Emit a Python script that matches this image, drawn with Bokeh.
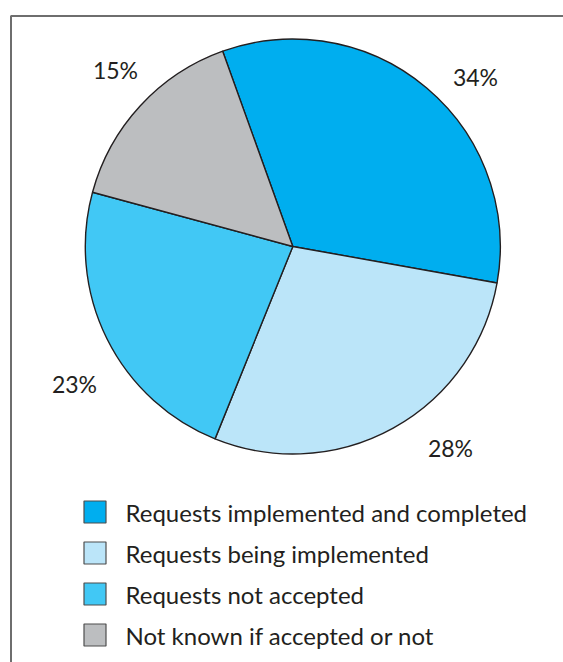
import math
from bokeh.plotting import figure
from bokeh.models import Range1d, ColumnDataSource
from bokeh.core.properties import value
from bokeh.embed import file_html
from bokeh.resources import INLINE

# ---- data ----
categories = ["Requests implemented and completed", "Requests being implemented",
              "Requests not accepted", "Not known if accepted or not"]
shares = [33.3, 28.3, 23.1, 15.3]   # slice sizes as drawn in the picture
pct_labels = ["34%", "28%", "23%", "15%"]
colors = ["#00aeef", "#bbe5f9", "#41c8f5", "#bcbec0"]

# ---- layout (page pixel coords, y measured from top) ----
W, H = 563, 662
def Y(py):
    return H - py

cx, cy, R = 292.3, Y(246), 207.5
start_deg = 109.75  # first slice starts here (counter-clockwise from +x), goes clockwise
label_pos = [(475, 76), (450, 447), (74, 383), (115, 69)]
legend_x_box, legend_x_text = 94.5, 125
legend_y0, legend_dy = 511.5, 41

p = figure(width=W, height=H, output_backend="svg", toolbar_location=None,
           x_range=Range1d(0, W), y_range=Range1d(0, H),
           min_border=0, outline_line_color=None)
p.axis.visible = False
p.grid.visible = False
p.background_fill_color = "white"

# frame (decoration)
p.line(x=[10.5, 10.5, 900], y=[Y(900), Y(15.5), Y(15.5)],
       line_color="#6e6e6e", line_width=2)

# pie wedges
total = float(sum(shares))
starts, ends = [], []
a = math.radians(start_deg)
for s in shares:
    starts.append(a)
    a = a - 2 * math.pi * s / total
    ends.append(a)
src = ColumnDataSource(dict(start=starts, end=ends, color=colors, cat=categories))
p.wedge(x=cx, y=cy, radius=R, start_angle="start", end_angle="end", direction="clock",
        fill_color="color", line_color="#231f20", line_width=1.4, source=src)

# percentage labels
p.text(x=[q[0] for q in label_pos], y=[Y(q[1]) for q in label_pos], text=pct_labels,
       text_font=value("Lato"), text_font_size="23px", text_color="#231f20",
       text_align="center", text_baseline="middle")

# legend
ly = [Y(legend_y0 + i * legend_dy) for i in range(len(categories))]
p.rect(x=[legend_x_box] * len(categories), y=ly, width=22, height=22,
       fill_color=colors, line_color="#4d4d4d", line_width=1.2)
p.text(x=[legend_x_text] * len(categories), y=ly, text=categories,
       text_font=value("Lato"), text_font_size="24px", text_color="#231f20",
       text_align="left", text_baseline="middle")

open("out.html", "w").write(file_html(p, INLINE))
